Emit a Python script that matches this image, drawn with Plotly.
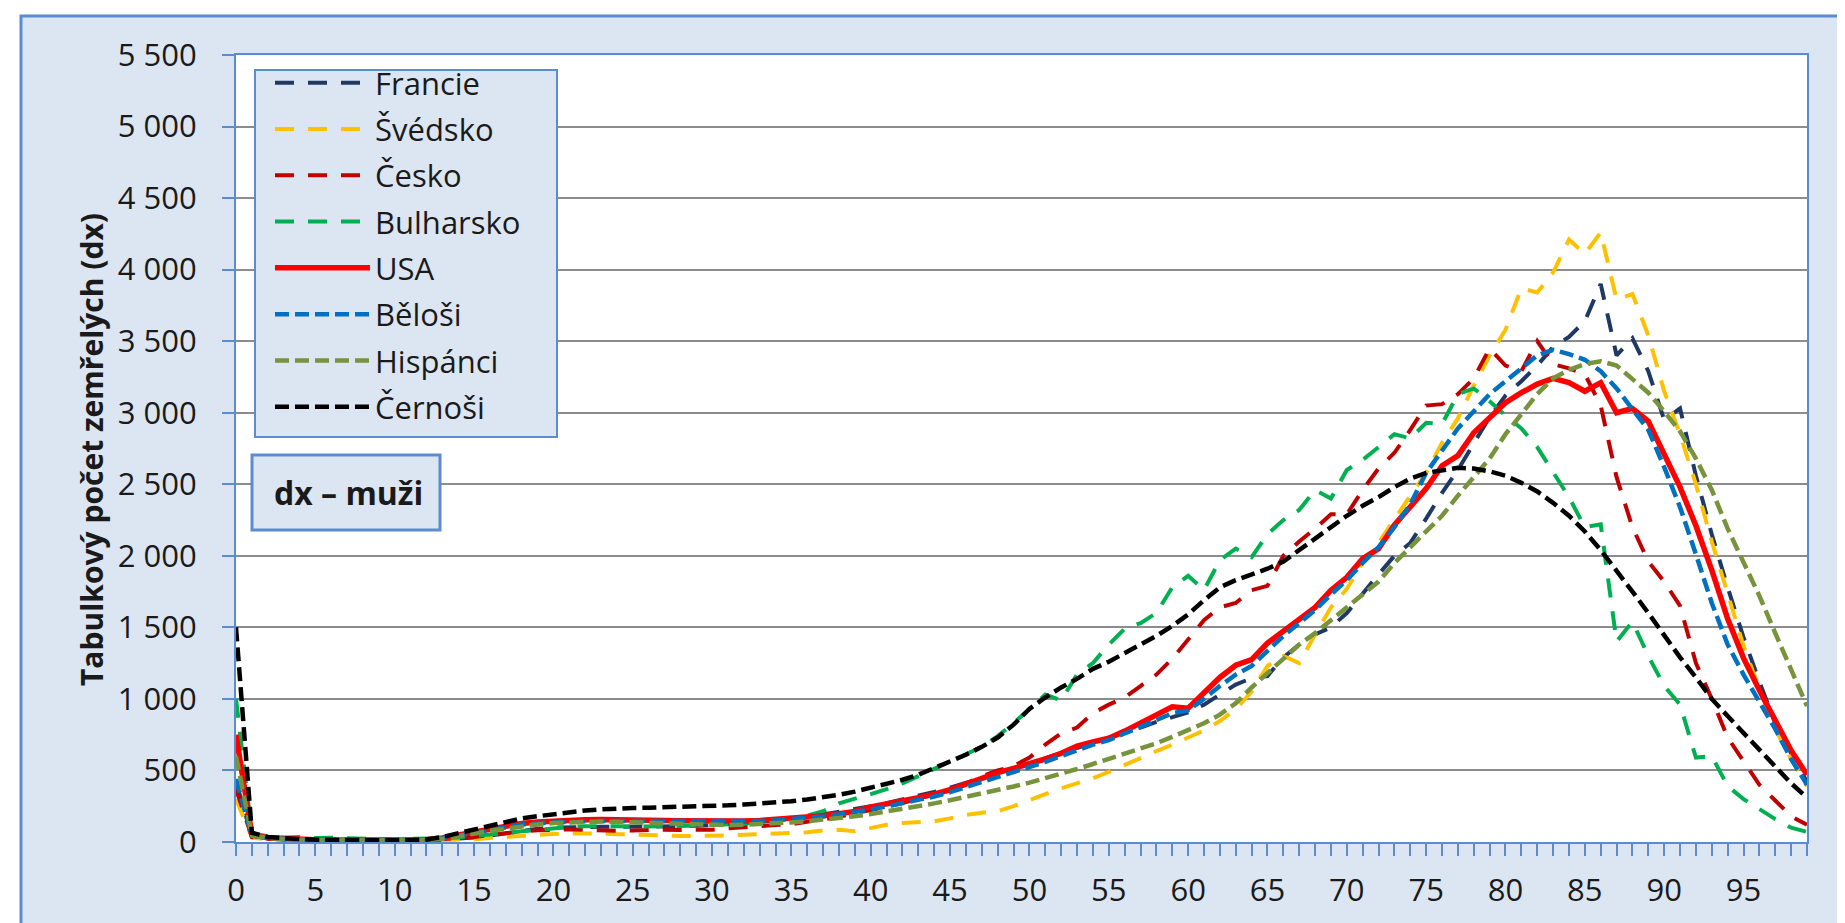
import plotly.graph_objects as go

ages = list(range(100))

francie = [420, 40, 25, 18, 15, 13, 12, 11, 11, 10,
           10, 10, 12, 16, 22, 32, 45, 62, 80, 92,
           100, 104, 106, 107, 107, 106, 106, 107, 110, 113,
           118, 124, 132, 140, 150, 162, 176, 192, 210, 230,
           250, 272, 296, 322, 350, 380, 412, 445, 480, 515,
           550, 585, 620, 655, 690, 725, 762, 800, 840, 875,
           905, 960, 1030, 1100, 1145, 1160, 1290, 1380, 1450, 1500,
           1600, 1740, 1870, 2000, 2090, 2260, 2440, 2600, 2790, 2970,
           3120, 3220, 3330, 3460, 3530, 3640, 3900, 3400, 3520, 3290,
           2950, 3030, 2560, 2150, 1780, 1430, 1120, 830, 620, 420]

svedsko = [300, 30, 18, 12, 10, 9, 8, 8, 8, 8,
           8, 9, 10, 12, 15, 20, 28, 36, 45, 52,
           56, 60, 62, 60, 55, 50, 48, 45, 42, 42,
           42, 45, 50, 55, 56, 60, 68, 80, 85, 75,
           95, 120, 132, 140, 145, 165, 190, 205, 215, 250,
           295, 335, 375, 410, 445, 490, 540, 585, 635, 680,
           730, 780, 845, 930, 1050, 1230, 1300, 1250, 1450, 1640,
           1770, 1950, 2090, 2260, 2420, 2580, 2790, 2960, 3190, 3400,
           3580, 3870, 3840, 3980, 4210, 4110, 4260, 3790, 3830, 3540,
           3150, 2850, 2500, 2100, 1730, 1370, 1070, 790, 580, 390]

cesko = [370, 35, 22, 16, 13, 12, 11, 10, 10, 10,
         10, 11, 13, 18, 25, 35, 48, 62, 75, 82,
         86, 88, 85, 80, 78, 80, 84, 86, 84, 82,
         86, 95, 105, 112, 118, 125, 140, 158, 178, 198,
         220, 245, 272, 300, 335, 372, 410, 460, 500, 530,
         590, 680, 760, 800, 900, 960, 1010, 1090, 1170, 1280,
         1420, 1550, 1640, 1670, 1760, 1790, 2000, 2100, 2190, 2290,
         2290, 2460, 2610, 2720, 2880, 3050, 3060, 3130, 3240, 3450,
         3330, 3290, 3500, 3340, 3310, 3270, 3050, 2550, 2200, 1960,
         1820, 1650, 1250, 1000, 730, 560, 400, 290, 180, 120]

bulharsko = [1000, 60, 40, 30, 35, 28, 30, 25, 22, 20,
             20, 20, 22, 26, 32, 40, 50, 62, 75, 86,
             98, 105, 110, 112, 110, 108, 108, 110, 112, 115,
             118, 122, 128, 138, 150, 165, 185, 215, 270, 300,
             335, 370, 410, 460, 510, 560, 610, 665, 740, 830,
             930, 1030, 990, 1170, 1250, 1380, 1490, 1530, 1600, 1780,
             1860, 1760, 1970, 2050, 1990, 2150, 2250, 2320, 2460, 2400,
             2600, 2670, 2760, 2850, 2820, 2930, 2920, 3130, 3170, 3080,
             2980, 2890, 2760, 2580, 2410, 2200, 2220, 1400, 1540, 1300,
             1090, 960, 590, 600, 390, 300, 230, 160, 100, 70]

usa = [750, 50, 30, 22, 18, 15, 14, 13, 12, 11,
       11, 12, 15, 28, 48, 72, 95, 115, 130, 140,
       148, 153, 156, 158, 158, 155, 152, 150, 148, 146,
       145, 144, 146, 150, 156, 163, 172, 183, 197, 214,
       245, 265, 285, 310, 335, 365, 405, 447, 485, 515,
       545, 580, 620, 670, 700, 725, 775, 830, 880, 945,
       935, 1040, 1150, 1235, 1275, 1390, 1475, 1560, 1640, 1760,
       1850, 1980, 2050, 2215, 2340, 2470, 2630, 2700, 2860, 2970,
       3070, 3140, 3200, 3240, 3210, 3150, 3210, 3000, 3030, 2940,
       2700, 2480, 2210, 1900, 1560, 1285, 1060, 850, 640, 470]

belosi = [440, 45, 28, 20, 16, 14, 13, 12, 11, 10,
          10, 11, 14, 25, 45, 68, 90, 108, 122, 132,
          138, 142, 145, 146, 146, 145, 143, 141, 140, 139,
          139, 140, 142, 146, 152, 159, 168, 179, 193, 209,
          228, 249, 270, 293, 318, 348, 382, 420, 458, 492,
          522, 560, 600, 642, 680, 712, 755, 805, 852, 900,
          920, 1000, 1090, 1170, 1230, 1340, 1440, 1530, 1620, 1730,
          1830, 1950, 2060, 2200, 2360, 2580, 2740, 2890, 3010, 3130,
          3220, 3310, 3400, 3440, 3410, 3370, 3290, 3170, 3030, 2880,
          2620, 2340, 2010, 1670, 1380, 1170, 980, 790, 580, 400]

hispanci = [600, 45, 28, 20, 16, 14, 13, 12, 11, 11,
            11, 12, 14, 22, 38, 58, 78, 95, 110, 122,
            132, 138, 142, 143, 141, 137, 132, 127, 123, 120,
            118, 118, 120, 124, 130, 137, 145, 155, 166, 180,
            195, 212, 230, 250, 270, 292, 315, 338, 362, 388,
            415, 445, 477, 510, 545, 580, 615, 650, 690, 735,
            780, 830, 890, 970, 1080, 1180, 1280, 1380, 1460, 1550,
            1640, 1730, 1820, 1950, 2060, 2160, 2280, 2420, 2550, 2680,
            2850, 2990, 3130, 3240, 3300, 3340, 3360, 3330, 3240, 3140,
            3010, 2870, 2680, 2460, 2190, 1950, 1720, 1460, 1200, 950]

cernosi = [1500, 65, 35, 25, 20, 16, 14, 13, 12, 12,
           12, 14, 18, 35, 60, 90, 118, 142, 165, 180,
           195, 208, 220, 228, 235, 238, 240, 242, 245, 248,
           252, 256, 262, 268, 275, 285, 297, 312, 330, 352,
           378, 405, 435, 470, 515, 560, 610, 665, 730, 820,
           930, 1010, 1080, 1140, 1210, 1260, 1320, 1380, 1440, 1510,
           1590, 1690, 1780, 1830, 1870, 1910, 1960, 2040, 2120, 2200,
           2280, 2350, 2410, 2480, 2540, 2580, 2600, 2615, 2610, 2590,
           2560, 2510, 2450, 2370, 2280, 2170, 2040, 1900, 1750, 1600,
           1440, 1290, 1150, 1000, 880, 760, 640, 520, 410, 310]

series_names = ["Francie", "Švédsko", "Česko", "Bulharsko",
                "USA", "Běloši", "Hispánci", "Černoši"]
series_values = [francie, svedsko, cesko, bulharsko, usa, belosi, hispanci, cernosi]
series_colors = ["#1f3864", "#ffc000", "#c00000", "#00b050",
                 "#ff0000", "#0070c0", "#77933c", "#000000"]
LONG = "19px,14px"
SHORT = "14px,6px"
series_dash = [LONG, LONG, LONG, LONG, "solid", SHORT, SHORT, SHORT]
series_width = [4, 4, 4, 4, 5.5, 4.5, 4.5, 4.5]

y_tickvals = list(range(0, 5501, 500))
y_ticktext = ["0", "500", "1\u00a0000", "1\u00a0500", "2\u00a0000", "2\u00a0500",
              "3\u00a0000", "3\u00a0500", "4\u00a0000", "4\u00a0500",
              "5\u00a0000", "5\u00a0500"]
x_tickvals = list(range(0, 100, 5))
x_ticktext = [str(v) for v in x_tickvals]

y_title = "Tabulkový počet zemřelých (dx)"
box_text = "dx – muži"

W, H = 1845, 923
L, R, T, B = 228, 1799, 47, 834          # plot area in pixels
FONT = "Open Sans"
TXT = "#1a1a1a"
BLUE = "#5b8bd0"
FILL = "#dce6f2"


def px(x):
    return (x - L) / (R - L)


def py(y):
    return (B - y) / (B - T)


fig = go.Figure()
for name, vals, col, dash, wd in zip(series_names, series_values, series_colors,
                                     series_dash, series_width):
    fig.add_trace(go.Scatter(
        x=ages, y=vals, name=name, mode="lines", legendgroup=name,
        line=dict(color=col, width=wd, dash=dash),
    ))

shapes = [
    # outer panel
    dict(type="rect", xref="paper", yref="paper", layer="below",
         x0=px(13), x1=px(1843), y0=py(921), y1=py(8),
         fillcolor=FILL, line=dict(color=BLUE, width=3)),
    # plot area background
    dict(type="rect", xref="paper", yref="paper", layer="below",
         x0=0, x1=1, y0=0, y1=1, fillcolor="white", line=dict(width=0)),
    # legend box
    dict(type="rect", xref="paper", yref="paper", layer="above",
         x0=px(247), x1=px(549), y0=py(429), y1=py(62),
         fillcolor=FILL, line=dict(color=BLUE, width=2)),
    # dx box
    dict(type="rect", xref="paper", yref="paper", layer="above",
         x0=px(244), x1=px(432), y0=py(522), y1=py(447),
         fillcolor=FILL, line=dict(color=BLUE, width=3)),
]

annotations = [
    dict(text=y_title, xref="paper", yref="paper", x=px(84), y=py(442),
         textangle=-90, showarrow=False, xanchor="center", yanchor="middle",
         font=dict(family=FONT, size=30, color=TXT, weight="bold")),
    dict(text=box_text, xref="paper", yref="paper", x=px(340), y=py(484.5),
         showarrow=False, xanchor="center", yanchor="middle",
         font=dict(family=FONT, size=32, color=TXT, weight="bold")),
]

fig.update_layout(
    width=W, height=H,
    margin=dict(l=L, r=W - R, t=T, b=H - B, pad=0),
    paper_bgcolor="white",
    plot_bgcolor="rgba(0,0,0,0)",
    font=dict(family=FONT, size=30, color=TXT),
    shapes=shapes,
    annotations=annotations,
    showlegend=True,
    legend=dict(
        x=px(262), y=py(48), xanchor="left", yanchor="top",
        bgcolor="rgba(0,0,0,0)", borderwidth=0,
        font=dict(family=FONT, size=31, color=TXT),
        itemwidth=95, traceorder="grouped", tracegroupgap=3,
    ),
    xaxis=dict(
        range=[0, 99], tickmode="array", tickvals=x_tickvals, ticktext=x_ticktext,
        ticks="outside", ticklen=12, tickwidth=2, tickcolor=BLUE,
        minor=dict(dtick=1, tick0=0, ticks="outside", ticklen=12, tickwidth=2,
                   tickcolor=BLUE, showgrid=False),
        showgrid=False, zeroline=False,
        showline=True, linecolor=BLUE, linewidth=2, mirror=True,
        tickfont=dict(family=FONT, size=31, color=TXT),
        ticklabelstandoff=8,
    ),
    yaxis=dict(
        range=[0, 5500], tickmode="array", tickvals=y_tickvals, ticktext=y_ticktext,
        ticks="outside", ticklen=12, tickwidth=2, tickcolor=BLUE,
        showgrid=True, gridcolor="#8c8c8c", gridwidth=2, zeroline=False,
        showline=True, linecolor=BLUE, linewidth=2, mirror=True,
        tickfont=dict(family=FONT, size=31, color=TXT),
        ticklabelstandoff=19,
    ),
)

fig.write_html("out.html")
